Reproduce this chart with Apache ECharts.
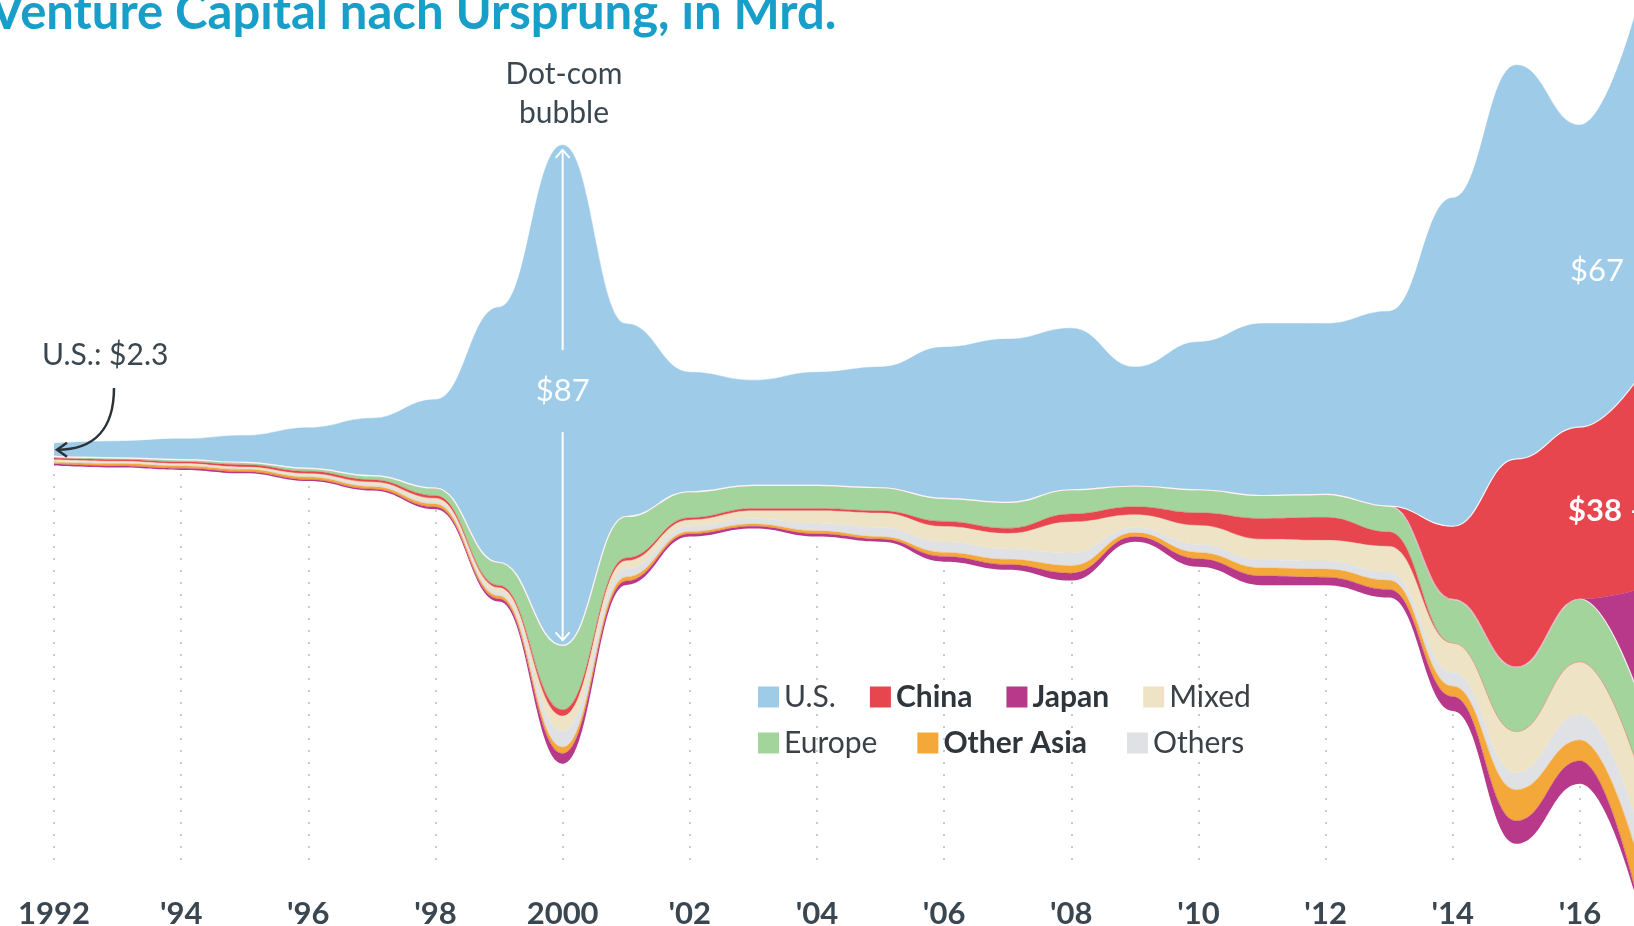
<!DOCTYPE html>
<html><head><meta charset="utf-8">
<script src="https://cdn.jsdelivr.net/npm/echarts@6/dist/echarts.min.js"></script>
<style>html,body{margin:0;padding:0;background:#fff;overflow:hidden}#c{width:1634px;height:926px}</style>
</head><body><div id="c"></div>
<script>
// ---- data (in $ billions) ----
const years = [1992,1993,1994,1995,1996,1997,1998,1999,2000,2001,2002,2003,2004,2005,2006,2007,2008,2009,2010,2011,2012,2013,2014,2015,2016,2017];
const tickLabels = ["1992","'94","'96","'98","2000","'02","'04","'06","'08","'10","'12","'14","'16"];
const us        = [2.3,2.9,3.6,4.7,7.1,10.0,15.4,44.4,87,33.5,20.8,18.3,19.7,21.0,26.3,28.4,28.1,20.7,25.7,29.9,29.7,33.9,57.1,68.5,52.5,67];
const china     = [0.3,0.3,0.3,0.4,0.4,0.4,0.5,0.4,1.1,0.5,0.4,0.4,0.4,0.4,0.9,0.9,1.4,1.4,2.2,3.6,4.0,2.5,12.7,36.2,29.9,38];
const japan     = [0.3,0.3,0.3,0.3,0.3,0.3,0.4,0.5,1.8,0.7,0.5,0.4,0.5,0.5,0.9,0.9,1.3,0.9,1.4,1.6,1.4,1.4,2.5,4.0,4.0,21];
const mixed     = [0.2,0.2,0.2,0.2,0.3,0.4,0.5,0.7,2.7,1.4,1.1,1.4,2.2,2.5,2.7,2.7,5.4,2.2,3.3,3.6,3.6,4.5,5.1,7.2,9.1,10.0];
const europe    = [0.3,0.3,0.4,0.4,0.5,0.7,1.3,4.0,11.2,7.2,4.5,4.0,4.0,4.0,4.0,4.5,4.2,3.6,4.0,4.0,4.0,4.5,7.6,11.2,10.9,13.5];
const otherAsia = [0.3,0.4,0.4,0.4,0.4,0.4,0.5,0.5,1.1,0.7,0.4,0.4,0.5,0.4,0.7,0.9,1.3,0.7,1.1,1.4,1.4,1.6,1.8,5.4,3.6,8.2];
const others    = [0.2,0.2,0.2,0.2,0.3,0.4,0.5,0.7,2.7,1.4,0.9,0.9,1.3,1.6,1.8,1.8,2.2,0.9,1.4,1.4,1.4,1.4,2.4,2.9,4.5,5.8];

// ---- styling ----
const COL = {us:'#9dcbe8', china:'#e8464f', japan:'#b8398a', mixed:'#eee3c4', europe:'#a3d49b', otherAsia:'#f5a83a', others:'#dfe1e4'};
const TXT = '#3b4750';
const FONT = 'Lato';
const CENTER = 82;   // value at which the stream is centred (y axis 0..161)
const SMOOTH = 0.45;

const total = years.map((y,i)=> us[i]+china[i]+japan[i]+mixed[i]+europe[i]+otherAsia[i]+others[i]);
const base = total.map(t => CENTER - t/2);        // silhouette offset
const chinaLow  = china.map((v,i)=> years[i] <= 2013 ? v : 0);
const chinaHigh = china.map((v,i)=> years[i] >= 2014 ? v : 0);
const japanLow  = japan.map((v,i)=> years[i] <= 2016 ? v : 0);
const japanHigh = japan.map((v,i)=> years[i] >= 2017 ? v : 0);

function layer(name, vals, color, edge) {
  return {
    type:'line', name, data: vals, stack:'s', smooth:SMOOTH, smoothMonotone:'x',
    symbol:'none', showSymbol:false, silent:true,
    lineStyle: edge ? {width:1.2, color:'#ffffff', opacity:0.85} : {width:0.5, color, opacity:0.8},
    itemStyle:{color},
    areaStyle:{color, opacity:1}, xAxisIndex:0, yAxisIndex:0, z:3
  };
}

const series = [
  {type:'line', name:'_base', data: base, stack:'s', smooth:SMOOTH, smoothMonotone:'x',
   symbol:'none', showSymbol:false, lineStyle:{opacity:0, width:0}, silent:true, xAxisIndex:0, yAxisIndex:0, z:3},
  layer('Japan', japanLow, COL.japan),
  layer('Other Asia', otherAsia, COL.otherAsia),
  layer('Others', others, COL.others),
  layer('Mixed', mixed, COL.mixed),
  layer('China', chinaLow, COL.china),
  layer('Europe', europe, COL.europe, true),
  layer('Japan', japanHigh, COL.japan),
  layer('China', chinaHigh, COL.china, true),
  layer('U.S.', us, COL.us),
  {type:'line', name:'_axis', data:[], xAxisIndex:1, yAxisIndex:1, silent:true}
];

const bold = ['China','Japan','Other Asia'];
const legendText = {
  rich:{ b:{fontFamily:FONT, fontWeight:'bold', fontSize:30, color:'#2e353b'},
         n:{fontFamily:FONT, fontWeight:'normal', fontSize:30, color:'#3a4248'} }
};
const legendFmt = n => bold.includes(n) ? '{b|'+n+'}' : '{n|'+n+'}';
const YEAR_PX = 63.58;

const chart = echarts.init(document.getElementById('c'), null, {renderer:'canvas'});
chart.setOption({
  animation:false,
  backgroundColor:'#ffffff',
  grid:[
    {left:54, width:YEAR_PX*(years.length-1), top:0, height:926, outerBoundsMode:'none'},
    {left:54, width:YEAR_PX*26, top:474, height:396, outerBoundsMode:'none'}
  ],
  xAxis:[
    {gridIndex:0, type:'category', data:years.map(String), boundaryGap:false, show:false},
    {gridIndex:1, type:'value', min:1992, max:2018, interval:2, axisLine:{show:false}, axisTick:{show:false},
      splitLine:{show:true, lineStyle:{color:'#cbcbcb', width:2, type:[2,10]}},
      axisLabel:{margin:28, color:TXT, fontFamily:FONT, fontWeight:'bold', fontSize:31,
        formatter: v => { const k=(v-1992)/2; return (Number.isInteger(k) && k < tickLabels.length) ? tickLabels[k] : ''; }}}
  ],
  yAxis:[
    {gridIndex:0, type:'value', min:0, max:161, show:false},
    {gridIndex:1, type:'value', min:0, max:1, show:false}
  ],
  legend:[
    {data:['U.S.','China','Japan','Mixed'], left:758, top:682, icon:'rect', itemWidth:21, itemHeight:21,
     itemGap:34, selectedMode:false, formatter:legendFmt, textStyle:legendText, padding:0},
    {data:['Europe','Other Asia','Others'], left:758, top:728, icon:'rect', itemWidth:21, itemHeight:21,
     itemGap:40, selectedMode:false, formatter:legendFmt, textStyle:legendText, padding:0}
  ],
  series
});

// ---- annotations anchored to the data ----
const px = p => chart.convertToPixel({xAxisIndex:0, yAxisIndex:0}, p);
const i00 = years.indexOf(2000), i92 = years.indexOf(1992);
const top00 = px([i00, CENTER + total[i00]/2]);
const bot00 = px([i00, CENTER + total[i00]/2 - us[i00]]);
const mid00 = (top00[1] + bot00[1]) / 2;
const x00 = top00[0];
const usMid92 = px([i92, CENTER + total[i92]/2 - us[i92]/2]);

const graphic = [
  {type:'text', left:-10, top:-11, style:{text:'Venture Capital nach Ursprung, in Mrd.', font:'bold 49px '+FONT, fill:'#189fc9'}},
  {type:'text', x:564, y:94, style:{text:'Dot-com\nbubble', font:'30px '+FONT, fill:TXT, align:'center', verticalAlign:'middle', lineHeight:39}},
  {type:'text', x:42, y:355, style:{text:'U.S.: $2.3', font:'30px '+FONT, fill:TXT, align:'left', verticalAlign:'middle'}},
  {type:'bezierCurve', z:10, shape:{x1:114, y1:388, x2:usMid92[0]+3, y2:usMid92[1], cpx1:114, cpy1:428, cpx2:95, cpy2:usMid92[1]},
   style:{stroke:'#2b3338', lineWidth:2.5, fill:null}},
  {type:'polyline', z:10, shape:{points:[[usMid92[0]+13, usMid92[1]-7],[usMid92[0]+3, usMid92[1]],[usMid92[0]+13, usMid92[1]+7]]},
   style:{stroke:'#2b3338', lineWidth:2.5, fill:null}},
  {type:'text', x:x00, y:mid00-4, z:10, style:{text:'$87', font:'31px '+FONT, fill:'#ffffff', align:'center', verticalAlign:'middle', opacity:0.95}},
  {type:'line', z:10, shape:{x1:x00, y1:top00[1]+5, x2:x00, y2:mid00-45}, style:{stroke:'#ffffff', lineWidth:2}},
  {type:'line', z:10, shape:{x1:x00, y1:mid00+37, x2:x00, y2:bot00[1]-5}, style:{stroke:'#ffffff', lineWidth:2}},
  {type:'polyline', z:10, shape:{points:[[x00-7, top00[1]+13],[x00, top00[1]+5],[x00+7, top00[1]+13]]}, style:{stroke:'#ffffff', lineWidth:2, fill:null}},
  {type:'polyline', z:10, shape:{points:[[x00-7, bot00[1]-13],[x00, bot00[1]-5],[x00+7, bot00[1]-13]]}, style:{stroke:'#ffffff', lineWidth:2, fill:null}},
  {type:'text', x:1570, y:271, z:10, style:{text:'$67 –', font:'31px '+FONT, fill:'#ffffff', align:'left', verticalAlign:'middle'}},
  {type:'text', x:1568, y:511, z:10, style:{text:'$38 –', font:'bold 31px '+FONT, fill:'#ffffff', align:'left', verticalAlign:'middle'}}
];
chart.setOption({graphic});
</script>
</body></html>
